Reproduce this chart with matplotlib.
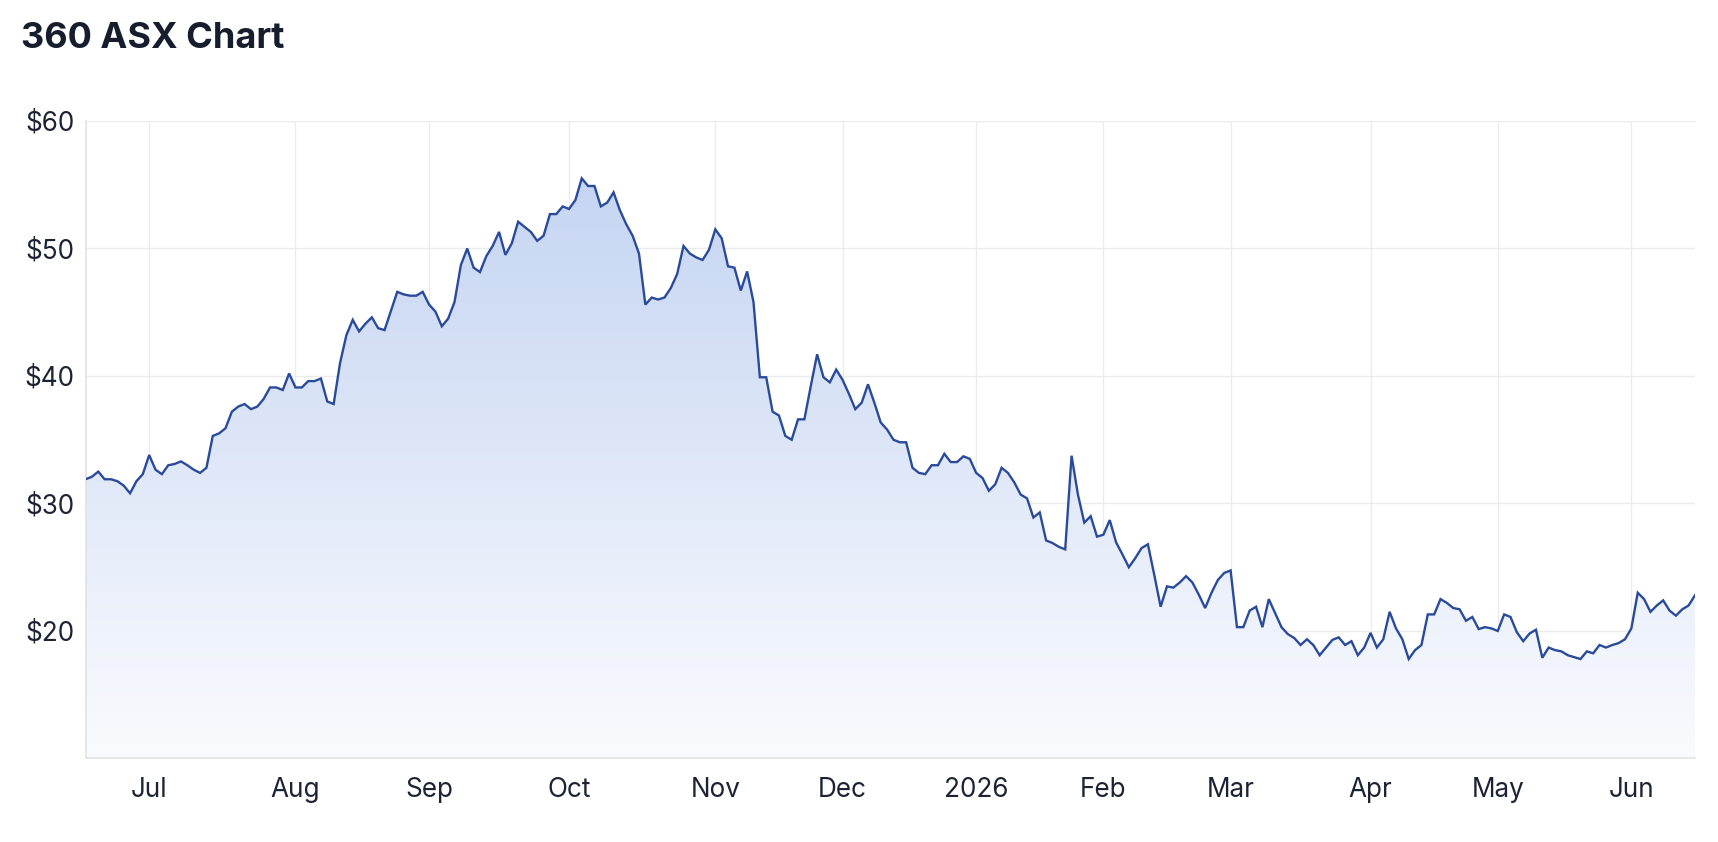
import numpy as np
import pandas as pd
import matplotlib
matplotlib.use('Agg')
import matplotlib.pyplot as plt
from matplotlib.patches import Polygon
from matplotlib.colors import to_rgb

# daily closes (AUD), one per ASX trading day, 17 Jun 2025 -> 16 Jun 2026
prices = [
    31.9, 32.1, 32.5, 31.9, 31.9, 31.75, 31.4, 30.8, 31.75, 32.3,
    33.8, 32.65, 32.3, 33.0, 33.1, 33.3, 33.0, 32.65, 32.4, 32.8,
    35.3, 35.5, 35.9, 37.2, 37.6, 37.8, 37.4, 37.6, 38.2, 39.1,
    39.1, 38.9, 40.2, 39.1, 39.1, 39.6, 39.6, 39.8, 38.0, 37.8,
    41.0, 43.2, 44.4, 43.5, 44.1, 44.6, 43.75, 43.6, 45.1, 46.6,
    46.4, 46.3, 46.3, 46.6, 45.6, 45.05, 43.9, 44.5, 45.8, 48.7,
    50.0, 48.5, 48.15, 49.4, 50.2, 51.3, 49.5, 50.4, 52.1, 51.7,
    51.3, 50.6, 51.0, 52.7, 52.7, 53.3, 53.1, 53.8, 55.5, 54.9,
    54.9, 53.3, 53.6, 54.4, 53.0, 51.9, 51.0, 49.6, 45.6, 46.15,
    46.0, 46.15, 46.9, 48.0, 50.2, 49.6, 49.3, 49.1, 49.9, 51.5,
    50.8, 48.6, 48.5, 46.7, 48.2, 45.8, 39.9, 39.9, 37.2, 36.9,
    35.3, 35.0, 36.6, 36.6, 39.2, 41.7, 39.9, 39.5, 40.5, 39.7,
    38.6, 37.4, 37.9, 39.35, 37.9, 36.35, 35.8, 35.0, 34.8, 34.8,
    32.8, 32.4, 32.3, 33.0, 33.0, 33.9, 33.25, 33.25, 33.7, 33.5,
    32.4, 32.0, 31.0, 31.5, 32.8, 32.4, 31.65, 30.7, 30.4, 28.9,
    29.3, 27.1, 26.9, 26.6, 26.4, 33.75, 30.7, 28.5, 29.0, 27.4,
    27.55, 28.7, 26.95, 26.0, 25.0, 25.7, 26.5, 26.8, 24.4, 21.9,
    23.5, 23.4, 23.8, 24.3, 23.8, 22.85, 21.8, 23.0, 24.0, 24.55,
    24.75, 20.3, 20.3, 21.6, 21.9, 20.3, 22.5, 21.4, 20.3, 19.75,
    19.45, 18.9, 19.35, 18.9, 18.1, 18.7, 19.3, 19.5, 18.9, 19.2,
    18.1, 18.7, 19.85, 18.7, 19.35, 21.5, 20.2, 19.35, 17.8, 18.5,
    18.9, 21.3, 21.3, 22.5, 22.2, 21.8, 21.7, 20.8, 21.1, 20.15,
    20.3, 20.2, 20.0, 21.3, 21.1, 19.9, 19.2, 19.8, 20.1, 17.9,
    18.7, 18.5, 18.4, 18.1, 17.95, 17.8, 18.4, 18.25, 18.9, 18.7,
    18.9, 19.05, 19.35, 20.2, 23.0, 22.5, 21.5, 22.0, 22.4, 21.6,
    21.2, 21.7, 22.0, 22.8,
]

asx_holidays = ['2025-12-25', '2025-12-26', '2026-01-01', '2026-01-26',
                '2026-04-03', '2026-04-06', '2026-06-08']
y_ticks = [20, 30, 40, 50, 60]

dates = pd.bdate_range('2025-06-17', '2026-06-16')
dates = dates[~dates.isin(pd.to_datetime(asx_holidays))]
n = min(len(dates), len(prices))
dates = dates[:n]
y = np.array(prices[:n])
x = np.arange(n)

# first trading day of every month -> tick
tick_idx = [i for i in range(1, n) if dates[i].month != dates[i - 1].month]
tick_lab = ['2026' if dates[i].month == 1 else dates[i].strftime('%b') for i in tick_idx]

plt.rcParams['font.family'] = ['Inter', 'DejaVu Sans']

fig = plt.figure(figsize=(17.18, 8.42), dpi=100)
ax = fig.add_axes([0.0498, 0.0992, 0.9368, 0.7571])

ymin, ymax = 10, 60
ax.set_xlim(0, n - 1)
ax.set_ylim(ymin, ymax)

# gradient fill under the line
top = np.array(to_rgb('#c0d1f1'))
bot = np.array(to_rgb('#fafbfe'))
t = np.linspace(0, 1, 256)[:, None]
grad = bot + (top - bot) * t
grad = np.repeat(grad[:, None, :], 2, axis=1)
im = ax.imshow(grad, extent=[0, n - 1, ymin, ymax], origin='lower',
               aspect='auto', zorder=1, interpolation='bilinear')
verts = [(x[0], ymin)] + list(zip(x, y)) + [(x[-1], ymin)]
poly = Polygon(verts, closed=True, facecolor='none', edgecolor='none')
ax.add_patch(poly)
im.set_clip_path(poly)

ax.plot(x, y, color='#2a4a9c', lw=1.7, zorder=3, solid_joinstyle='miter')

ax.set_yticks(y_ticks)
ax.set_yticklabels([f'${v}' for v in y_ticks])
ax.set_xticks(tick_idx)
ax.set_xticklabels(tick_lab)

ax.grid(True, color='#ebebeb', lw=1.0, zorder=0)
ax.set_axisbelow(True)
ax.tick_params(axis='both', length=0, labelsize=18.8, labelcolor='#1c2333')
ax.tick_params(axis='y', pad=8)
ax.tick_params(axis='x', pad=13)

for s in ['top', 'right']:
    ax.spines[s].set_visible(False)
for s in ['left', 'bottom']:
    ax.spines[s].set_color('#e2e2e2')
    ax.spines[s].set_linewidth(1.2)

fig.text(21 / 1718, 1 - 48.5 / 842, '360 ASX Chart', fontsize=26,
         fontweight='bold', color='#161e2e', ha='left', va='baseline')

fig.savefig('out.png', dpi=100)
